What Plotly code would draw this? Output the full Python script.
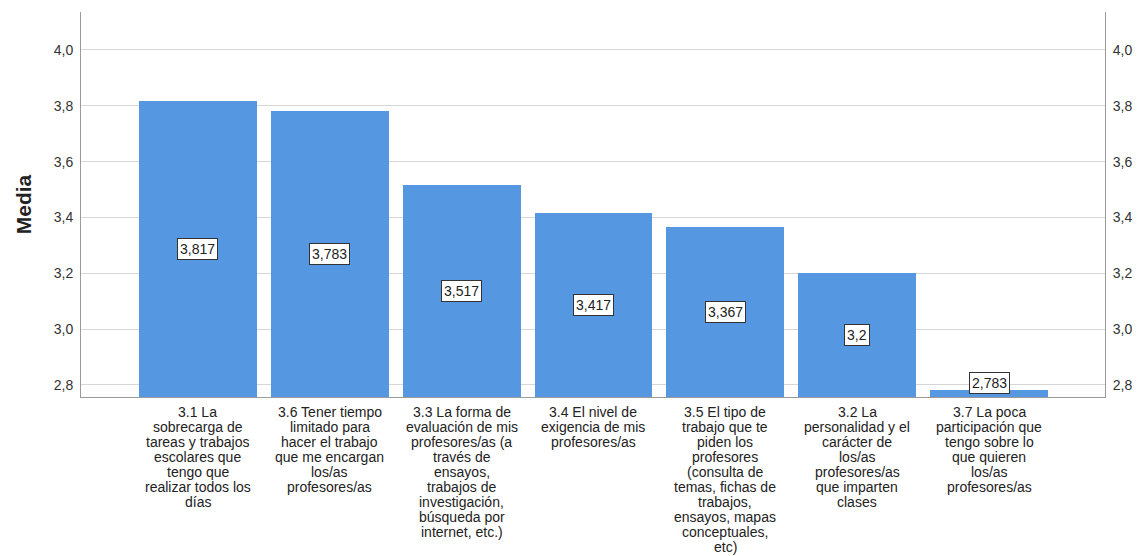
import plotly.graph_objects as go

# Categorías (ítems de la escala), una lista de líneas por ítem, y medias
categorias = [
    ["3.1 La", "sobrecarga de", "tareas y trabajos", "escolares que", "tengo que", "realizar todos los", "días"],
    ["3.6 Tener tiempo", "limitado para", "hacer el trabajo", "que me encargan", "los/as", "profesores/as"],
    ["3.3 La forma de", "evaluación de mis", "profesores/as (a", "través de", "ensayos,", "trabajos de", "investigación,", "búsqueda por", "internet, etc.)"],
    ["3.4 El nivel de", "exigencia de mis", "profesores/as"],
    ["3.5 El tipo de", "trabajo que te", "piden los", "profesores", "(consulta de", "temas, fichas de", "trabajos,", "ensayos, mapas", "conceptuales,", "etc)"],
    ["3.2 La", "personalidad y el", "carácter de", "los/as", "profesores/as", "que imparten", "clases"],
    ["3.7 La poca", "participación que", "tengo sobre lo", "que quieren", "los/as", "profesores/as"],
]
medias = [3.817, 3.783, 3.517, 3.417, 3.367, 3.2, 2.783]
etiquetas = ["3,817", "3,783", "3,517", "3,417", "3,367", "3,2", "2,783"]

tick_vals = [2.8, 3.0, 3.2, 3.4, 3.6, 3.8, 4.0]
tick_text = ["2,8", "3,0", "3,2", "3,4", "3,6", "3,8", "4,0"]

y_min, y_max = 2.757, 4.136
x = list(range(len(categorias)))

FONT = "Liberation Sans, Arial"

fig = go.Figure()
fig.add_trace(go.Bar(
    x=x, y=medias,
    marker=dict(color="#5598E1", line=dict(width=0)),
    width=0.894,
    hoverinfo="skip",
))
# serie sin marcas para activar el eje derecho
fig.add_trace(go.Scatter(
    x=x, y=medias, yaxis="y2", mode="none",
    hoverinfo="skip", showlegend=False,
))

# Etiquetas de valor centradas en la parte visible de cada barra
for xi, v, t in zip(x, medias, etiquetas):
    yc = max((y_min + v) / 2, y_min + 0.05)
    fig.add_annotation(
        x=xi, y=yc, text=t, showarrow=False,
        font=dict(family=FONT, size=14, color="#222"),
        bgcolor="white", bordercolor="#333", borderwidth=1, borderpad=2,
    )

# Etiquetas de categoría, línea a línea bajo el eje
for xi, lineas in zip(x, categorias):
    for j, linea in enumerate(lineas):
        fig.add_annotation(
            x=xi, xref="x", y=0, yref="paper", yanchor="middle",
            yshift=-15 - 15 * j,
            text=linea, showarrow=False,
            font=dict(family=FONT, size=14, color="#222"),
        )

axis_font = dict(family=FONT, size=14, color="#333")

fig.update_layout(
    width=1137, height=556,
    margin=dict(l=81, r=32, t=12, b=159),
    paper_bgcolor="white", plot_bgcolor="white",
    showlegend=False,
    bargap=0,
    xaxis=dict(
        range=[-0.886, 6.879],
        showticklabels=False, automargin=False,
        showgrid=False, zeroline=False,
        showline=True, linecolor="#9a9a9a", linewidth=1,
        ticks="",
    ),
    yaxis=dict(
        range=[y_min, y_max], automargin=False,
        tickmode="array", tickvals=tick_vals, ticktext=tick_text,
        tickfont=axis_font,
        showgrid=True, gridcolor="#d6d6d6", gridwidth=1,
        zeroline=False,
        showline=True, linecolor="#9a9a9a", linewidth=1,
        ticks="outside", ticklen=4, tickcolor="white",
        title=dict(text="<b>Media</b>", font=dict(family=FONT, size=21, color="#222"), standoff=16),
    ),
    yaxis2=dict(
        range=[y_min, y_max], overlaying="y", side="right", automargin=False,
        tickmode="array", tickvals=tick_vals, ticktext=tick_text,
        tickfont=axis_font,
        showgrid=False, zeroline=False,
        showline=True, linecolor="#9a9a9a", linewidth=1,
        ticks="outside", ticklen=4, tickcolor="white",
    ),
)

fig.write_html("out.html")
